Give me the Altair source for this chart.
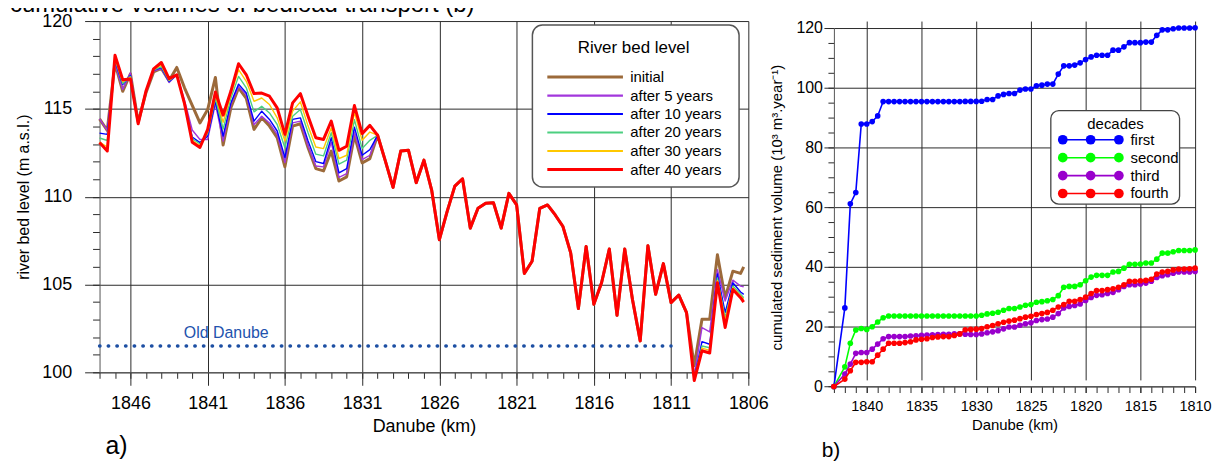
import altair as alt
import pandas as pd

FONT = "Liberation Sans"
GRID = "#2a2a2a"
DOM = "#555555"

# ---------------- panel a) river bed level ----------------
km_up = [1848.0, 1847.5, 1847.0, 1846.5, 1846.0, 1845.5, 1845.0, 1844.5, 1844.0,
         1843.5, 1843.0, 1842.5, 1842.0, 1841.5, 1841.0, 1840.5, 1840.0, 1839.5,
         1839.0, 1838.5, 1838.0, 1837.5, 1837.0, 1836.5, 1836.0, 1835.5, 1835.0,
         1834.5, 1834.0, 1833.5, 1833.0, 1832.5, 1832.0, 1831.5, 1831.0, 1830.5,
         1830.0]
km_mid = [1829.5, 1829.0, 1828.5, 1828.0, 1827.5, 1827.0, 1826.5, 1826.0, 1825.5,
          1825.0, 1824.5, 1824.0, 1823.5, 1823.0, 1822.5, 1822.0, 1821.5, 1821.0,
          1820.5, 1820.0, 1819.5, 1819.0, 1818.5, 1818.0, 1817.5, 1817.0, 1816.5,
          1816.0, 1815.5, 1815.0, 1814.5, 1814.0, 1813.5, 1813.0, 1812.5, 1812.0,
          1811.5, 1811.0, 1810.5, 1810.0]
km_down = [1809.5, 1809.0, 1808.5, 1808.0, 1807.5, 1807.0, 1806.5, 1806.3]

initial_up = [114.43, 113.77, 117.6, 116.0, 117.0, 114.25, 115.9, 117.1, 117.3, 116.6,
              117.36, 116.2, 115.2, 114.2, 114.96, 116.79, 112.94, 115.06, 116.19, 115.6,
              113.83, 114.49, 114.02, 113.36, 111.7, 114.02, 114.15, 112.79, 111.6, 111.47,
              112.6, 110.89, 111.13, 113.49, 111.92, 112.17, 113.5]
y5_up = [114.43, 113.77, 117.6, 116.1, 117.05, 114.25, 115.95, 117.15, 117.3, 116.5,
         116.94, 115.5, 113.8, 113.26, 113.26, 115.3, 113.17, 115.25, 116.28, 115.8,
         114.11, 114.58, 114.2, 113.55, 111.94, 114.2, 114.3, 112.89, 111.75, 111.7,
         113.1, 111.1, 111.32, 113.68, 112.11, 112.36, 113.5]
y10_up = [113.62, 113.55, 117.7, 116.38, 116.9, 114.25, 115.95, 117.2, 117.35, 116.55,
          116.95, 115.35, 113.4, 113.08, 113.45, 115.43, 113.45, 115.34, 116.41, 115.9,
          114.3, 114.87, 114.4, 113.74, 112.23, 114.4, 114.49, 113.17, 112.0, 111.89,
          113.36, 111.36, 111.6, 113.96, 112.36, 112.68, 113.5]
y20_up = [113.34, 113.2, 117.8, 116.45, 116.85, 114.2, 116.0, 117.2, 117.4, 116.6,
          116.95, 115.3, 113.3, 113.0, 113.6, 115.6, 113.85, 115.6, 116.85, 116.2,
          114.83, 115.15, 114.77, 114.11, 112.79, 114.58, 114.96, 113.64, 112.42, 112.32,
          113.64, 111.85, 112.08, 114.38, 112.74, 113.21, 113.5]
y30_up = [113.11, 112.83, 117.9, 116.55, 116.8, 114.2, 116.0, 117.25, 117.5, 116.65,
          116.95, 115.2, 113.2, 112.9, 113.7, 115.8, 114.23, 115.8, 117.23, 116.57,
          115.43, 115.62, 115.25, 114.49, 113.17, 114.87, 115.4, 114.02, 112.83, 112.74,
          113.92, 112.17, 112.36, 114.81, 113.21, 113.68, 113.5]
y40_up = [113.08, 112.6, 118.05, 116.66, 116.7, 114.15, 116.0, 117.28, 117.64, 116.72,
          116.94, 115.3, 113.1, 112.8, 113.83, 115.96, 114.64, 116.0, 117.57, 116.94,
          115.87, 115.9, 115.72, 115.06, 113.55, 115.34, 115.87, 114.58, 113.36, 113.26,
          114.3, 112.64, 112.87, 115.19, 113.59, 114.06, 113.5]

common_mid = [112.04, 110.53, 112.6, 112.64, 110.8, 112.08, 110.38, 107.55, 109.15, 110.6,
              111.02, 108.21, 109.34, 109.63, 109.66, 108.21, 110.19, 109.53, 105.63, 106.32,
              109.34, 109.53, 108.96, 108.3, 106.8, 103.63, 107.17, 103.87, 105.1, 107.02,
              103.25, 107.02, 104.15, 101.79, 107.21, 104.44, 106.19, 103.97, 104.4, 103.4]

initial_down = [100.38, 103.02, 103.02, 106.7, 104.25, 105.76, 105.63, 106.0]
y5_down = [99.8, 102.55, 102.3, 105.85, 104.06, 105.25, 104.91, 104.87]
y10_down = [99.65, 101.75, 101.6, 105.6, 103.4, 105.1, 104.57, 104.44]
y20_down = [99.6, 101.5, 101.4, 105.38, 103.12, 104.91, 104.44, 104.25]
y30_down = [99.6, 101.38, 101.25, 105.23, 102.93, 104.82, 104.34, 104.15]
y40_down = [99.53, 101.23, 101.1, 105.1, 102.55, 104.72, 104.25, 104.0]

series_a = ["initial", "after 5 years", "after 10 years", "after 20 years",
            "after 30 years", "after 40 years"]
colors_a = ["#9c6a3a", "#a236dc", "#0000ff", "#4ccf80", "#ffc800", "#ff0000"]
widths_a = [3.0, 1.4, 1.4, 1.4, 1.4, 3.0]
legend_widths_a = [3.0, 2.2, 2.0, 2.2, 2.0, 3.0]
ups = [initial_up, y5_up, y10_up, y20_up, y30_up, y40_up]
downs = [initial_down, y5_down, y10_down, y20_down, y30_down, y40_down]

old_danube_km = [1848.0, 1811.0]
old_danube_level = [101.5, 101.5]
old_danube_label_km = 1839.8
old_danube_label_level = 101.95

major_km_a = [1846, 1841, 1836, 1831, 1826, 1821, 1816, 1811, 1806]
minor_km_a = list(range(1806, 1849))
major_lvl_a = [100, 105, 110, 115, 120]
minor_lvl_a = list(range(100, 121))

# ---------------- panel b) cumulated sediment volume ----------------
km_b = [1843.0, 1842.0, 1841.5, 1841.0, 1840.5, 1840.0, 1839.5, 1839.0, 1838.5, 1838.0,
        1837.5, 1837.0, 1836.5, 1836.0, 1835.5, 1835.0, 1834.5, 1834.0, 1833.5, 1833.0,
        1832.5, 1832.0, 1831.5, 1831.0, 1830.5, 1830.0, 1829.5, 1829.0, 1828.5, 1828.0,
        1827.5, 1827.0, 1826.5, 1826.0, 1825.5, 1825.0, 1824.5, 1824.0, 1823.5, 1823.0,
        1822.5, 1822.0, 1821.5, 1821.0, 1820.5, 1820.0, 1819.5, 1819.0, 1818.5, 1818.0,
        1817.5, 1817.0, 1816.5, 1816.0, 1815.5, 1815.0, 1814.5, 1814.0, 1813.5, 1813.0,
        1812.5, 1812.0, 1811.5, 1811.0, 1810.5, 1810.0]
first = [0, 26.3, 61.1, 64.9, 87.8, 87.8, 88.6, 90.5, 95.3, 95.3,
         95.3, 95.3, 95.3, 95.3, 95.3, 95.3, 95.3, 95.3, 95.3, 95.3,
         95.3, 95.3, 95.3, 95.35, 95.35, 95.37, 95.4, 96.0, 96.0, 97.2,
         97.7, 98.0, 98.0, 99.15, 99.5, 99.5, 100.6, 100.8, 101.15, 101.15,
         104.5, 107.25, 107.25, 107.5, 108.25, 109.35, 110.25, 110.8, 110.8, 110.8,
         112.5, 112.5, 113.6, 115.0, 115.0, 115.0, 115.2, 115.2, 117.45, 119.3,
         119.3, 119.65, 119.9, 119.9, 119.9, 120.0]
second = [0, 6.6, 14.5, 18.9, 19.4, 19.1, 20.0, 21.6, 23.0, 23.6,
          23.6, 23.6, 23.6, 23.6, 23.6, 23.6, 23.6, 23.6, 23.6, 23.6,
          23.6, 23.6, 23.6, 23.6, 23.6, 23.6, 23.85, 24.3, 24.5, 24.85,
          25.5, 26.1, 26.1, 26.6, 27.2, 27.4, 28.2, 28.4, 28.7, 29.1,
          30.4, 33.2, 33.5, 33.5, 34.05, 35.4, 36.6, 37.2, 37.2, 37.2,
          38.3, 38.5, 39.6, 40.9, 40.9, 41.0, 41.3, 41.3, 42.6, 44.6,
          44.6, 45.1, 45.5, 45.5, 45.5, 45.7]
third = [0, 4.2, 7.5, 11.1, 11.4, 11.4, 12.5, 14.2, 16.0, 16.7,
         16.7, 16.7, 16.7, 16.9, 17.0, 17.1, 17.2, 17.3, 17.4, 17.5,
         17.5, 17.6, 17.6, 17.5, 17.4, 17.4, 17.6, 18.0, 18.3, 18.7,
         19.3, 19.9, 19.9, 20.5, 21.0, 21.3, 22.1, 22.4, 22.6, 23.2,
         24.4, 26.3, 26.8, 27.1, 27.6, 28.8, 29.8, 30.5, 30.7, 31.1,
         31.5, 32.4, 33.5, 34.05, 34.05, 34.3, 34.6, 35.2, 36.5, 37.05,
         37.4, 37.9, 38.3, 38.3, 38.3, 38.5]
fourth = [0, 2.5, 5.3, 8.1, 8.1, 8.3, 8.3, 10.5, 12.5, 14.5,
          14.5, 14.5, 14.7, 15.0, 15.6, 15.8, 16.0, 16.4, 16.6, 16.7,
          16.7, 17.1, 17.6, 19.0, 19.1, 19.2, 19.4, 20.0, 20.4, 21.0,
          21.5, 21.9, 22.2, 22.7, 23.2, 23.5, 24.1, 24.4, 24.8, 25.5,
          26.6, 27.4, 28.5, 28.5, 29.1, 29.9, 31.1, 32.1, 32.1, 32.4,
          32.7, 33.2, 34.05, 35.2, 35.2, 35.4, 35.5, 35.9, 37.6, 38.3,
          38.5, 39.0, 39.3, 39.3, 39.4, 39.6]

series_b = ["first", "second", "third", "fourth"]
colors_b = ["#0000ff", "#00ff00", "#9900cc", "#ff0000"]
values_b = [first, second, third, fourth]

major_km_b = [1840, 1835, 1830, 1825, 1820, 1815, 1810]
minor_km_b = list(range(1810, 1844))
major_vol_b = [0, 20, 40, 60, 80, 100, 120]
minor_vol_b = list(range(0, 121, 5))

# ---------------- helpers ----------------
one = pd.DataFrame({"k": [0]})


def text_mark(text, x, y, size, align="left", baseline="alphabetic", color="black"):
    return alt.Chart(one).mark_text(
        text=text, fontSize=size, align=align, baseline=baseline, color=color, font=FONT
    ).encode(x=alt.value(x), y=alt.value(y))


def common_axis(**kw):
    base = dict(labelFont=FONT, titleFont=FONT, labelColor="black", titleColor="black",
                titleFontWeight="normal", tickColor=GRID, domainColor=DOM,
                gridColor=GRID, gridWidth=1, gridOpacity=1)
    base.update(kw)
    return alt.Axis(**base)


# ---------------- panel a ----------------
W_A, H_A = 652, 353
sx_a = alt.Scale(domain=[1806, 1848], reverse=True, nice=False, zero=False)
sy_a = alt.Scale(domain=[100, 120], nice=False, zero=False)

ax_a_major = common_axis(values=major_km_a, format="d", grid=True, tickSize=13,
                         labelFontSize=18, labelPadding=9, labelFlush=False,
                         title="Danube (km)", titleFontSize=18, titlePadding=5,
                         orient="bottom")
ax_a_minor = common_axis(values=minor_km_a, labels=False, grid=False, tickSize=6,
                         domain=False, title=None, orient="bottom")
ay_a_major = common_axis(values=major_lvl_a, format="d", grid=True, tickSize=15,
                         labelFontSize=18, labelPadding=13,
                         title="river bed level (m a.s.l.)", titleFontSize=16,
                         titleX=-68, titleY=H_A / 2, orient="left")
ay_a_minor = common_axis(values=minor_lvl_a, labels=False, grid=False, tickSize=7,
                         domain=False, title=None, orient="left")

df_old = pd.DataFrame({"km": old_danube_km, "level": old_danube_level})
df_old_label = pd.DataFrame({"km": [old_danube_label_km],
                             "level": [old_danube_label_level]})

layers_a = [
    alt.Chart(df_old).mark_point(opacity=0).encode(
        x=alt.X("km:Q", scale=sx_a, axis=ax_a_minor),
        y=alt.Y("level:Q", scale=sy_a, axis=ay_a_minor)),
]
km_a = km_up + km_mid + km_down
for i, name in enumerate(series_a):
    df = pd.DataFrame({"km": km_a, "level": ups[i] + common_mid + downs[i]})
    layers_a.append(
        alt.Chart(df).mark_line(color=colors_a[i], strokeWidth=widths_a[i],
                                strokeJoin="round").encode(
            x=alt.X("km:Q", scale=sx_a, axis=ax_a_major if i == 0 else None),
            y=alt.Y("level:Q", scale=sy_a, axis=ay_a_major if i == 0 else None))
    )

layers_a.append(
    alt.Chart(df_old).mark_line(color="#1d4fa3", strokeWidth=3.4, strokeDash=[0.5, 8.2],
                                strokeCap="round").encode(
        x=alt.X("km:Q", scale=sx_a, axis=None),
        y=alt.Y("level:Q", scale=sy_a, axis=None))
)
layers_a.append(
    alt.Chart(df_old_label).mark_text(text="Old Danube", fontSize=16, color="#2152ad",
                                      font=FONT, align="center",
                                      baseline="alphabetic").encode(
        x=alt.X("km:Q", scale=sx_a, axis=None),
        y=alt.Y("level:Q", scale=sy_a, axis=None))
)

# legend a
layers_a.append(
    alt.Chart(one).mark_rect(fill="white", stroke="#555555", strokeWidth=1.5,
                             cornerRadius=10).encode(
        x=alt.value(435), x2=alt.value(642.7), y=alt.value(4), y2=alt.value(166.7))
)
layers_a.append(text_mark("River bed level", 536.7, 26.7, 17, align="center",
                          baseline="middle"))
leg_rows_a = [56.3, 75.0, 93.5, 112.0, 130.5, 149.2]
for i, name in enumerate(series_a):
    layers_a.append(
        alt.Chart(one).mark_rule(color=colors_a[i], strokeWidth=legend_widths_a[i]).encode(
            x=alt.value(450), x2=alt.value(526), y=alt.value(leg_rows_a[i]))
    )
    layers_a.append(text_mark(name, 533.3, leg_rows_a[i], 15, baseline="middle"))

layers_a.append(text_mark("a)", 6, 435, 25))
layers_a.append(text_mark("cumulative volumes of bedload transport (b)", -90, -9, 24))

left = alt.layer(*layers_a).resolve_axis(x="independent", y="independent").properties(
    width=W_A, height=H_A)

# ---------------- panel b ----------------
W_B, H_B = 363, 367.3
sx_b = alt.Scale(domain=[1810, 1843], reverse=True, nice=False, zero=False)
sy_b = alt.Scale(domain=[0, 120], range=[H_B, H_B - 360.6], nice=False, zero=False)

ax_b_major = common_axis(values=major_km_b, format="d", grid=True, tickSize=6,
                         labelFontSize=14.5, labelPadding=7, labelFlush=False,
                         title="Danube (km)", titleFontSize=15, titlePadding=5,
                         orient="bottom")
ax_b_minor = common_axis(values=minor_km_b, labels=False, grid=False, tickSize=6,
                         domain=False, title=None, orient="bottom")
ay_b_major = common_axis(values=major_vol_b, format="d", grid=True, tickSize=10,
                         labelFontSize=16, labelPadding=1.5,
                         title="cumulated sediment volume (10³ m³.year⁻¹)",
                         titleFontSize=15, titleX=-50, titleY=(H_B + 6.7) / 2,
                         orient="left")
ay_b_minor = common_axis(values=minor_vol_b, labels=False, grid=False, tickSize=6,
                         domain=False, title=None, orient="left")

df_b0 = pd.DataFrame({"km": km_b, "vol": first})
layers_b = [
    alt.Chart(df_b0).mark_point(opacity=0).encode(
        x=alt.X("km:Q", scale=sx_b, axis=ax_b_minor),
        y=alt.Y("vol:Q", scale=sy_b, axis=ay_b_minor)),
]
for i, name in enumerate(series_b):
    df = pd.DataFrame({"km": km_b, "vol": values_b[i]})
    layers_b.append(
        alt.Chart(df).mark_line(
            color=colors_b[i], strokeWidth=1.6,
            point=alt.OverlayMarkDef(filled=True, size=32, color=colors_b[i], opacity=1)
        ).encode(
            x=alt.X("km:Q", scale=sx_b, axis=ax_b_major if i == 0 else None),
            y=alt.Y("vol:Q", scale=sy_b, axis=ay_b_major if i == 0 else None))
    )

# legend b
layers_b.append(
    alt.Chart(one).mark_rect(fill="white", stroke="#444444", strokeWidth=1.3,
                             cornerRadius=8).encode(
        x=alt.value(218), x2=alt.value(347.4), y=alt.value(90), y2=alt.value(184))
)
layers_b.append(text_mark("decades", 283, 103.3, 15, align="center", baseline="middle"))
leg_rows_b = [119.3, 137.3, 155.3, 173.3]
for i, name in enumerate(series_b):
    layers_b.append(
        alt.Chart(one).mark_rule(color=colors_b[i], strokeWidth=1.6).encode(
            x=alt.value(230), x2=alt.value(286.4), y=alt.value(leg_rows_b[i]))
    )
    for cx in (230, 258, 286.4):
        layers_b.append(
            alt.Chart(one).mark_point(filled=True, size=95, color=colors_b[i], opacity=1,
                                      shape="circle").encode(
                x=alt.value(cx), y=alt.value(leg_rows_b[i]))
        )
    layers_b.append(text_mark(name, 298, leg_rows_b[i], 15, baseline="middle"))

layers_b.append(text_mark("b)", -12.3, 438, 21))

right = alt.layer(*layers_b).resolve_axis(x="independent", y="independent").properties(
    width=W_B, height=H_B)

chart = alt.hconcat(left, right, spacing=0).properties(
    padding={"left": 2, "top": -16, "right": 4, "bottom": 0}
).configure(font=FONT).configure_view(stroke=None)

chart.save("out.html", embed_options={"renderer": "svg", "actions": False})
